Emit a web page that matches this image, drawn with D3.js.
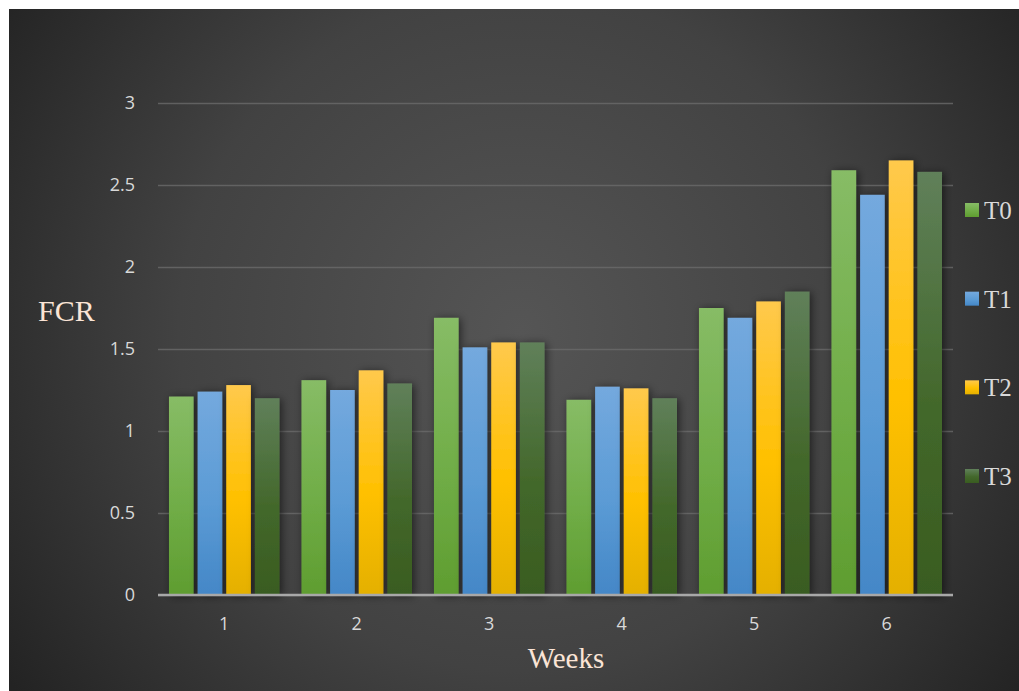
<!DOCTYPE html>
<html>
<head>
<meta charset="utf-8">
<script src="https://cdn.jsdelivr.net/npm/d3@7"></script>
<style>
  html, body { margin: 0; padding: 0; background: #ffffff; }
  svg { display: block; }
</style>
</head>
<body>
<svg id="chart" width="1019" height="691"></svg>
<script>
// Feed conversion ratio per week for each treatment
const weeks = ["1", "2", "3", "4", "5", "6"];
const seriesNames = ["T0", "T1", "T2", "T3"];
const T0 = [1.21, 1.31, 1.69, 1.19, 1.75, 2.59];
const T1 = [1.24, 1.25, 1.51, 1.27, 1.69, 2.44];
const T2 = [1.28, 1.37, 1.54, 1.26, 1.79, 2.65];
const T3 = [1.20, 1.29, 1.54, 1.20, 1.85, 2.58];
const yTicks = [0, 0.5, 1, 1.5, 2, 2.5, 3];

const seriesValues = [T0, T1, T2, T3];
// top / middle / bottom colour stops for each series
const palette = [
  ["#87bc66", "#70ad47", "#5f9d30"],
  ["#74a9de", "#5b9bd5", "#4487c7"],
  ["#ffc94c", "#ffc000", "#e4b000"],
  ["#60805a", "#43682b", "#395c20"]
];

const svg = d3.select("#chart");
const W = 1019, H = 691;
const margin = { left: 158, right: 953, top: 103, bottom: 595 };

const defs = svg.append("defs");

// background panel with soft radial lighting
const bg = defs.append("radialGradient")
  .attr("id", "bgGrad")
  .attr("gradientUnits", "userSpaceOnUse")
  .attr("cx", 520).attr("cy", 330).attr("r", 620);
bg.append("stop").attr("offset", "0%").attr("stop-color", "#555555");
bg.append("stop").attr("offset", "55%").attr("stop-color", "#424242");
bg.append("stop").attr("offset", "100%").attr("stop-color", "#232323");

palette.forEach((c, i) => {
  const g = defs.append("linearGradient")
    .attr("id", "barGrad" + i)
    .attr("x1", 0).attr("y1", 0).attr("x2", 0).attr("y2", 1);
  g.append("stop").attr("offset", "0%").attr("stop-color", c[0]);
  g.append("stop").attr("offset", "55%").attr("stop-color", c[1]);
  g.append("stop").attr("offset", "100%").attr("stop-color", c[2]);
});

const shadow = defs.append("filter")
  .attr("id", "barShadow")
  .attr("x", "-40%").attr("y", "-10%").attr("width", "180%").attr("height", "120%");
shadow.append("feDropShadow")
  .attr("dx", 2).attr("dy", 1).attr("stdDeviation", 4)
  .attr("flood-color", "#000000").attr("flood-opacity", 0.55);

svg.append("rect")
  .attr("x", 9).attr("y", 9)
  .attr("width", W - 9).attr("height", H - 9)
  .attr("fill", "url(#bgGrad)");

// scales
const x0 = d3.scaleBand()
  .domain(weeks)
  .range([margin.left, margin.right])
  .paddingInner(0.166)
  .paddingOuter(0.083);

const x1 = d3.scaleBand()
  .domain(seriesNames)
  .range([0, x0.bandwidth()])
  .paddingInner(0.14);

const y = d3.scaleLinear()
  .domain([0, 3])
  .range([margin.bottom, margin.top]);

// gridlines and value labels
const yAxis = d3.axisLeft(y)
  .tickValues(yTicks)
  .tickSize(-(margin.right - margin.left))
  .tickPadding(23)
  .tickFormat(d3.format("~g"));

const yg = svg.append("g")
  .attr("transform", `translate(${margin.left},0)`)
  .call(yAxis);
yg.select(".domain").remove();
yg.selectAll(".tick line")
  .attr("stroke", "#6a6a6a")
  .attr("stroke-opacity", 0.8)
  .attr("stroke-width", 1.5);
yg.selectAll(".tick text")
  .attr("fill", "#d9d9d9")
  .attr("font-family", "'Open Sans', 'Liberation Sans', sans-serif")
  .attr("font-size", 18);

// bars
const groups = svg.append("g")
  .selectAll("g")
  .data(weeks)
  .join("g")
  .attr("transform", d => `translate(${x0(d)},0)`);

groups.selectAll("rect")
  .data((w, wi) => seriesNames.map((s, si) => ({ s, si, v: seriesValues[si][wi] })))
  .join("rect")
  .attr("x", d => x1(d.s))
  .attr("y", d => y(d.v))
  .attr("width", x1.bandwidth())
  .attr("height", d => y(0) - y(d.v))
  .attr("fill", d => `url(#barGrad${d.si})`)
  .attr("filter", "url(#barShadow)");

// category axis
const xAxis = d3.axisBottom(x0).tickSize(0).tickPadding(22);
const xg = svg.append("g")
  .attr("transform", `translate(0,${margin.bottom})`)
  .call(xAxis);
xg.select(".domain")
  .attr("stroke", "#a8a8a8")
  .attr("stroke-width", 2.5)
  .attr("d", `M${margin.left},0H${margin.right}`);
xg.selectAll(".tick text")
  .attr("fill", "#d9d9d9")
  .attr("font-family", "'Open Sans', 'Liberation Sans', sans-serif")
  .attr("font-size", 18);

// axis titles
svg.append("text")
  .attr("x", 38).attr("y", 321)
  .attr("fill", "#fbe5d6")
  .attr("font-family", "'Liberation Serif', 'DejaVu Serif', serif")
  .attr("font-size", 30)
  .text("FCR");

svg.append("text")
  .attr("x", 566).attr("y", 668)
  .attr("text-anchor", "middle")
  .attr("fill", "#fbe5d6")
  .attr("font-family", "'Liberation Serif', 'DejaVu Serif', serif")
  .attr("font-size", 29)
  .text("Weeks");

// legend
const legendY = d3.scalePoint()
  .domain(seriesNames)
  .range([210, 476]);

const lg = svg.append("g")
  .selectAll("g")
  .data(seriesNames)
  .join("g")
  .attr("transform", d => `translate(965,${legendY(d)})`);

lg.append("rect")
  .attr("x", 0).attr("y", -7)
  .attr("width", 14).attr("height", 14)
  .attr("fill", (d, i) => `url(#barGrad${i})`);

lg.append("text")
  .attr("x", 19).attr("y", 9)
  .attr("fill", "#d9d9d9")
  .attr("font-family", "'Liberation Serif', 'DejaVu Serif', serif")
  .attr("font-size", 25)
  .text(d => d);
</script>
</body>
</html>
